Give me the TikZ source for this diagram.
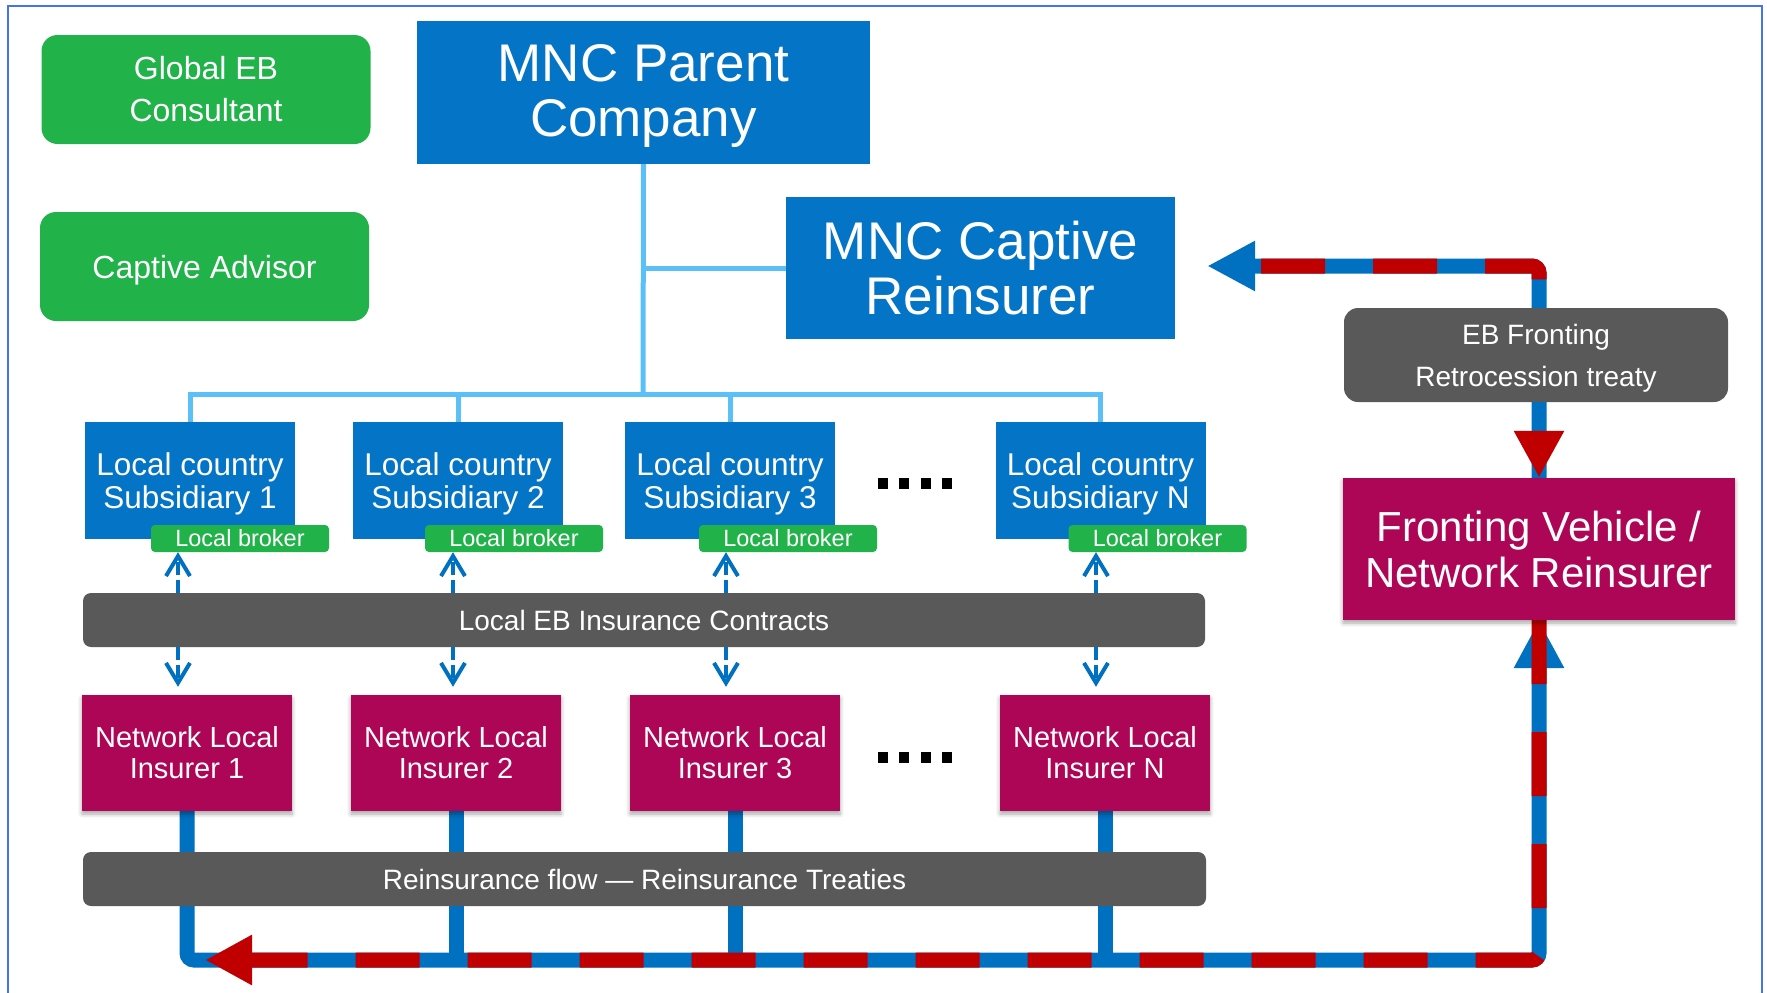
\documentclass[tikz,border=0pt]{standalone}
\usepackage{fontspec}
\setmainfont{Liberation Sans}
\usetikzlibrary{arrows.meta,backgrounds,shadows.blur,calc}

\definecolor{boxblue}{HTML}{0474C6}
\definecolor{flowblue}{HTML}{0070C0}
\definecolor{flowred}{HTML}{C00000}
\definecolor{nwmag}{HTML}{AE0656}
\definecolor{advgreen}{HTML}{21B24A}
\definecolor{bargray}{HTML}{595959}
\definecolor{treeblue}{HTML}{5BC0F8}
\definecolor{frameblue}{HTML}{4472F0}

\begin{document}
\begin{tikzpicture}[x=1pt,y=-1pt,
  base/.style={text=white,inner sep=0pt,align=center},
  softshadow/.style={blur shadow={shadow xshift=0pt,shadow yshift=-3pt,shadow blur radius=4pt,shadow opacity=35}},
  advisor/.style={base,fill=advgreen,rounded corners=16pt,minimum width=329pt,minimum height=109pt,font=\fontsize{32}{42}\selectfont},
  corpbox/.style={base,fill=boxblue,font=\fontsize{53}{55}\selectfont},
  subbox/.style={base,fill=boxblue,minimum width=210pt,minimum height=117pt,text depth=0pt,font=\fontsize{31.5}{33}\selectfont},
  brokerbox/.style={base,fill=advgreen,rounded corners=4pt,minimum width=178pt,minimum height=27pt,font=\fontsize{23.5}{25}\selectfont},
  insbox/.style={base,fill=nwmag,minimum width=210pt,minimum height=116pt,font=\fontsize{29}{31}\selectfont,softshadow},
  graybar/.style={base,fill=bargray,rounded corners=8pt,minimum width=1122pt,minimum height=54pt,font=\fontsize{28}{30}\selectfont},
  treeline/.style={treeblue,line width=5pt},
  flowline/.style={line width=15pt,rounded corners=7pt},
  dasharrow/.style={flowblue,line width=4pt,dash pattern=on 13pt off 5pt,-{Straight Barb[length=20pt,width=24pt]}},
  bluehead/.style={-{Triangle[length=48pt,width=47pt]}},
  redhead/.style={-{Triangle[length=47pt,width=47pt]}}
]
\useasboundingbox (0,0) rectangle (1767,993);
\clip (0,0) rectangle (1767,993);

% advisors
\node[advisor] (gec) at (206,89.5) {Global EB\\Consultant};
\node[advisor,text depth=0pt] (cad) at (204.5,266.5) {Captive Advisor};

% parent and captive
\node[corpbox,minimum width=453pt,minimum height=143pt,text depth=5pt] (parent) at (643.5,92.5) {MNC Parent\\Company};
\node[corpbox,minimum width=389pt,minimum height=142pt] (cap) at (980.5,268) {MNC Captive\\Reinsurer};

% local subsidiaries
\node[subbox] (s1) at (190,480.5) {Local country\\Subsidiary 1};
\node[subbox] (s2) at (458,480.5) {Local country\\Subsidiary 2};
\node[subbox] (s3) at (730,480.5) {Local country\\Subsidiary 3};
\node[subbox] (sN) at (1100.5,480.5) {Local country\\Subsidiary N};

\node[brokerbox] (b1) at (240,538.5) {Local broker};
\node[brokerbox] (b2) at (514,538.5) {Local broker};
\node[brokerbox] (b3) at (788,538.5) {Local broker};
\node[brokerbox] (bN) at (1157.5,538.5) {Local broker};

\node[graybar] (ctr) at (644,620) {Local EB Insurance Contracts};

% network insurers
\node[insbox] (i1) at (187,753) {Network Local\\Insurer 1};
\node[insbox] (i2) at (456,753) {Network Local\\Insurer 2};
\node[insbox] (i3) at (735,753) {Network Local\\Insurer 3};
\node[insbox] (iN) at (1105,753) {Network Local\\Insurer N};

\node[graybar,minimum width=1123pt] (rf) at (644.5,879) {Reinsurance flow — Reinsurance Treaties};

% fronting
\node[base,fill=bargray,rounded corners=14pt,minimum width=384pt,minimum height=94pt,text depth=0pt,font=\fontsize{28}{42}\selectfont] (ebf) at (1536,355) {EB Fronting\\Retrocession treaty};
\node[base,fill=nwmag,minimum width=392pt,minimum height=142pt,font=\fontsize{42}{46}\selectfont,softshadow] (fv) at (1539,549) {Fronting Vehicle /\\Network Reinsurer};

% ellipsis marks
\foreach \i in {0,...,3} {
  \fill[black] (877.5+21.5*\i,478) rectangle ++(10,11);
  \fill[black] (877.5+21.5*\i,752) rectangle ++(10,11);
}

\coordinate (bus) at (643,394);
\coordinate (fy) at (0,960);
\coordinate (ty) at (0,266);
\coordinate (a1) at (178,0);
\coordinate (a2) at (453,0);
\coordinate (a3) at (726,0);
\coordinate (aN) at (1096,0);

\begin{scope}[on background layer]
  % ownership tree
  \draw[treeline] (parent.south) -- (bus);
  \draw[treeline] (parent.south |- cap.west) -- (cap.west);
  \draw[treeline] (s1.north) |- (bus) -| (sN.north);
  \draw[treeline] (s2.north) -- (s2.north |- bus);
  \draw[treeline] (s3.north) -- (s3.north |- bus);

  % local contracts
  \foreach \a/\b/\n in {a1/b1/i1,a2/b2/i2,a3/b3/i3,aN/bN/iN} {
    \draw[dasharrow] (ctr.north -| \a) -- (\b.south -| \a);
    \draw[dasharrow,shorten >=8pt] (ctr.south -| \a) -- (\n.north -| \a);
  }

  % reinsurance flow to the fronting vehicle
  \draw[flowline,flowblue,bluehead] (i1.south) -- (i1.south |- fy) -- (fv.south |- fy) -- (fv.south);
  \draw[flowline,flowblue] (i2.south) -- (i2.south |- fy);
  \draw[flowline,flowblue] (i3.south) -- (i3.south |- fy);
  \draw[flowline,flowblue] (iN.south) -- (iN.south |- fy);
  \draw[flowline,flowred,dash pattern=on 64pt off 48pt,redhead] (fv.south) -- (fv.south |- fy) -- ([xshift=18pt]i1.south |- fy);

  % retrocession to the captive
  \draw[flowline,flowblue,bluehead] (fv.north) -- (fv.north |- ty) -- ([xshift=32pt]cap.east |- ty);
  \draw[flowline,flowred,dash pattern=on 64pt off 48pt,redhead] ([xshift=86pt]cap.east |- ty) -- (fv.north |- ty) -- (fv.north);
\end{scope}

% frame
\draw[frameblue,line width=2.5pt] (8,1010) -- (8,6) -- (1762,6) -- (1762,1010);
\end{tikzpicture}
\end{document}
